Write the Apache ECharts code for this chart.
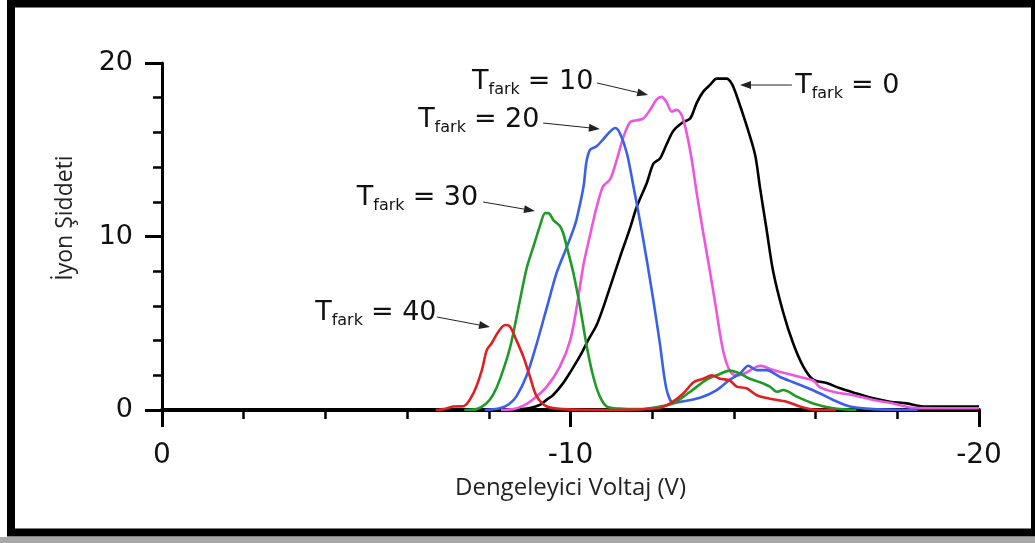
<!DOCTYPE html>
<html>
<head>
<meta charset="utf-8">
<script src="https://cdn.jsdelivr.net/npm/echarts@6.0.0/dist/echarts.min.js"></script>
<style>
html, body { margin: 0; padding: 0; background: #fff; }
#chart { width: 1035px; height: 543px; }
</style>
</head>
<body>
<div id="chart"></div>
<script>
// ölçülen eğriler: [voltaj, şiddet]
var tfark0 = [[-8.5,0],[-8.76,0.05],[-9.01,0.12],[-9.25,0.3],[-9.42,0.6],[-9.57,0.85],[-9.82,1.55],[-10.0,2.2],[-10.23,3.1],[-10.45,4.1],[-10.64,4.9],[-10.8,5.9],[-10.97,7.1],[-11.21,8.8],[-11.46,10.5],[-11.62,11.7],[-11.87,13.1],[-12.03,14.2],[-12.19,14.5],[-12.35,15.3],[-12.52,16.1],[-12.76,16.6],[-12.93,16.8],[-13.09,17.7],[-13.25,18.35],[-13.42,18.75],[-13.58,19.1],[-13.82,19.1],[-13.95,18.8],[-14.07,18.1],[-14.31,16.4],[-14.52,14.7],[-14.64,12.8],[-14.8,10.4],[-14.96,8.0],[-15.21,5.6],[-15.45,3.85],[-15.7,2.5],[-15.94,1.75],[-16.27,1.55],[-16.6,1.25],[-17.01,0.95],[-17.41,0.67],[-17.82,0.48],[-18.23,0.38],[-18.64,0.2],[-19.04,0.2],[-20,0.2]];
var tfark10 = [[-8.3,0],[-8.6,0.05],[-8.85,0.25],[-9.08,0.6],[-9.42,1.35],[-9.74,2.5],[-9.99,4.0],[-10.15,5.9],[-10.32,8.4],[-10.48,10.1],[-10.64,11.7],[-10.8,12.9],[-10.97,13.3],[-11.13,14.4],[-11.29,15.7],[-11.46,16.6],[-11.62,16.7],[-11.78,16.8],[-11.95,17.3],[-12.11,17.9],[-12.23,18.05],[-12.35,17.75],[-12.48,17.2],[-12.6,17.3],[-12.72,17.0],[-12.84,16.0],[-12.97,14.4],[-13.09,12.5],[-13.25,10.2],[-13.42,7.9],[-13.58,5.6],[-13.7,3.85],[-13.82,2.7],[-13.95,2.1],[-14.1,2.0],[-14.3,2.15],[-14.47,2.4],[-14.65,2.55],[-14.8,2.45],[-14.96,2.3],[-15.29,2.1],[-15.62,1.9],[-15.94,1.7],[-16.11,1.3],[-16.43,1.05],[-16.92,0.85],[-17.41,0.58],[-17.9,0.38],[-18.39,0.12],[-19,0.1],[-20,0.1]];
var tfark20 = [[-7.9,0],[-8.27,0.1],[-8.5,0.35],[-8.68,0.8],[-8.93,2.0],[-9.17,3.8],[-9.42,5.9],[-9.66,7.9],[-9.91,9.4],[-10.07,10.4],[-10.15,11.0],[-10.32,12.9],[-10.39,14.3],[-10.48,15.0],[-10.64,15.2],[-10.8,15.6],[-10.97,16.05],[-11.09,16.25],[-11.21,15.95],[-11.38,14.8],[-11.54,12.9],[-11.7,10.9],[-11.87,8.6],[-12.03,6.3],[-12.19,3.8],[-12.35,1.2],[-12.52,0.4],[-12.76,0.5],[-13.17,0.7],[-13.58,1.15],[-13.9,1.75],[-14.15,2.1],[-14.35,2.55],[-14.56,2.3],[-14.8,2.3],[-15.13,1.9],[-15.45,1.6],[-15.78,1.3],[-16.11,0.95],[-16.43,0.58],[-16.84,0.2],[-17.41,0.05],[-18.5,0]];
var tfark30 = [[-7.4,0],[-7.7,0.05],[-7.95,0.4],[-8.11,0.9],[-8.27,1.75],[-8.52,3.6],[-8.76,6.3],[-8.93,8.2],[-9.09,9.4],[-9.25,10.6],[-9.38,11.35],[-9.46,11.35],[-9.58,10.95],[-9.74,10.6],[-9.82,10.2],[-9.91,9.4],[-10.07,7.9],[-10.23,6.0],[-10.4,3.65],[-10.56,1.9],[-10.72,0.77],[-10.89,0.2],[-11.2,0.08],[-11.7,0.05],[-12.19,0.2],[-12.52,0.38],[-12.93,1.05],[-13.33,1.75],[-13.58,2.0],[-13.9,2.27],[-14.15,2.1],[-14.39,1.8],[-14.64,1.6],[-14.88,1.35],[-15.05,1.05],[-15.21,1.15],[-15.54,0.77],[-15.94,0.38],[-16.43,0.1],[-17,0]];
var tfark40 = [[-6.7,0],[-6.9,0.05],[-7.13,0.2],[-7.38,0.22],[-7.62,0.95],[-7.83,2.3],[-7.95,3.45],[-8.07,3.85],[-8.23,4.5],[-8.4,4.9],[-8.52,4.8],[-8.68,4.0],[-8.85,3.05],[-9.01,1.9],[-9.17,0.8],[-9.42,0.2],[-9.82,0.05],[-11.0,0],[-12.11,0.1],[-12.44,0.38],[-12.76,0.95],[-13.01,1.6],[-13.25,1.8],[-13.46,2.0],[-13.66,1.8],[-13.9,1.7],[-14.07,1.35],[-14.31,1.25],[-14.56,0.85],[-14.88,0.65],[-15.29,0.48],[-15.62,0.2],[-15.94,0.02],[-16.5,0]];

var seriesData = [tfark0, tfark10, tfark20, tfark30, tfark40];
var seriesColors = ['#000000', '#ee55dd', '#3a5fe8', '#1f9a26', '#e02020'];

// etiketler: T_fark değeri, yazının sol-orta noktası, ok başlangıcı ve ucu (veri koordinatında)
var annoValues = ['0', '10', '20', '30', '40'];
var annoLabelPos = [[-15.5, 18.67], [-7.59, 18.9], [-6.27, 16.71], [-4.77, 12.22], [-3.75, 5.59]];
var annoArrowFrom = [[-15.42, 18.73], [-10.65, 18.85], [-9.33, 16.54], [-7.86, 11.99], [-6.73, 5.36]];
var annoArrowTo = [[-14.15, 18.73], [-11.9, 18.16], [-10.72, 16.2], [-9.13, 11.47], [-8.03, 4.78]];

var chart = echarts.init(document.getElementById('chart'));

var series = [];
for (var i = 0; i < seriesData.length; i++) {
  series.push({
    name: 'Tfark=' + annoValues[i],
    type: 'line',
    data: seriesData[i],
    showSymbol: false,
    symbol: 'none',
    smooth: 0.3,
    lineStyle: { width: 2.6, color: seriesColors[i] },
    itemStyle: { color: seriesColors[i] },
    z: 3
  });
}

var option = {
  animation: false,
  backgroundColor: '#fff',
  grid: { left: 162, right: 56, top: 63, bottom: 133 },
  xAxis: {
    type: 'value',
    min: -20, max: 0, interval: 10,
    inverse: true,
    name: 'Dengeleyici Voltaj (V)',
    nameLocation: 'middle',
    nameGap: 66,
    nameTextStyle: { fontFamily: 'Open Sans', fontSize: 24, color: '#222' },
    axisLine: { lineStyle: { color: '#000', width: 4 } },
    axisTick: { length: 17, lineStyle: { color: '#000', width: 3 } },
    minorTick: { show: true, splitNumber: 5, length: 9, lineStyle: { color: '#000', width: 2.5 } },
    axisLabel: { fontFamily: 'DejaVu Sans', fontSize: 28, color: '#111', margin: 32 },
    splitLine: { show: false }
  },
  yAxis: {
    type: 'value',
    min: 0, max: 20, interval: 10,
    axisLine: { lineStyle: { color: '#000', width: 3 } },
    axisTick: { length: 17, lineStyle: { color: '#000', width: 3 } },
    minorTick: { show: true, splitNumber: 5, length: 9, lineStyle: { color: '#000', width: 2.5 } },
    axisLabel: { fontFamily: 'DejaVu Sans', fontSize: 27, color: '#111', margin: 29 },
    splitLine: { show: false }
  },
  series: series
};
chart.setOption(option);

// yazı genişliği ölçümü
var mctx = document.createElement('canvas').getContext('2d');
function textWidth(s, font) { mctx.font = font; return mctx.measureText(s).width; }

var mainFont = '27px "DejaVu Sans"';
var subFont = '16px "DejaVu Sans"';
var graphics = [];

for (var k = 0; k < annoValues.length; k++) {
  var p = chart.convertToPixel({ gridIndex: 0 }, annoLabelPos[k]);
  var x0 = p[0], cy = p[1];
  var wT = textWidth('T', mainFont);
  var wSub = textWidth('fark', subFont);
  graphics.push({ type: 'text', x: x0, y: cy, z: 10,
    style: { text: 'T', font: mainFont, fill: '#111', textAlign: 'left', textVerticalAlign: 'middle', align: 'left', verticalAlign: 'middle' } });
  graphics.push({ type: 'text', x: x0 + wT, y: cy + 8, z: 10,
    style: { text: 'fark', font: subFont, fill: '#111', textAlign: 'left', textVerticalAlign: 'middle', align: 'left', verticalAlign: 'middle' } });
  graphics.push({ type: 'text', x: x0 + wT + wSub + 8, y: cy, z: 10,
    style: { text: '= ' + annoValues[k], font: mainFont, fill: '#111', textAlign: 'left', textVerticalAlign: 'middle', align: 'left', verticalAlign: 'middle' } });

  var a = chart.convertToPixel({ gridIndex: 0 }, annoArrowFrom[k]);
  var b = chart.convertToPixel({ gridIndex: 0 }, annoArrowTo[k]);
  var dx = b[0] - a[0], dy = b[1] - a[1];
  var len = Math.sqrt(dx * dx + dy * dy);
  var ux = dx / len, uy = dy / len;
  var hl = 11, hw = 4;
  var bx = b[0] - ux * hl, by = b[1] - uy * hl;
  graphics.push({ type: 'line', z: 10,
    shape: { x1: a[0], y1: a[1], x2: bx, y2: by },
    style: { stroke: '#222', lineWidth: 1 } });
  graphics.push({ type: 'polygon', z: 10,
    shape: { points: [[b[0], b[1]], [bx - uy * hw, by + ux * hw], [bx + uy * hw, by - ux * hw]] },
    style: { fill: '#222' } });
}

// y ekseni başlığı
graphics.push({ type: 'text', x: 65, y: 218, rotation: Math.PI / 2, z: 10,
  style: { text: 'İyon Şiddeti', font: '23px "Open Sans"', fill: '#222', textAlign: 'center', textVerticalAlign: 'middle', align: 'center', verticalAlign: 'middle' } });

// çerçeve ve gölge
graphics.push({ type: 'rect', z: 20, shape: { x: 0, y: 537, width: 1035, height: 6 }, style: { fill: '#a8a8a8' } });
graphics.push({ type: 'rect', z: 21, shape: { x: 11, y: 3.5, width: 1024, height: 529 }, style: { fill: 'none', stroke: '#000', lineWidth: 8 } });

chart.setOption({ graphic: { elements: graphics } });
</script>
</body>
</html>
